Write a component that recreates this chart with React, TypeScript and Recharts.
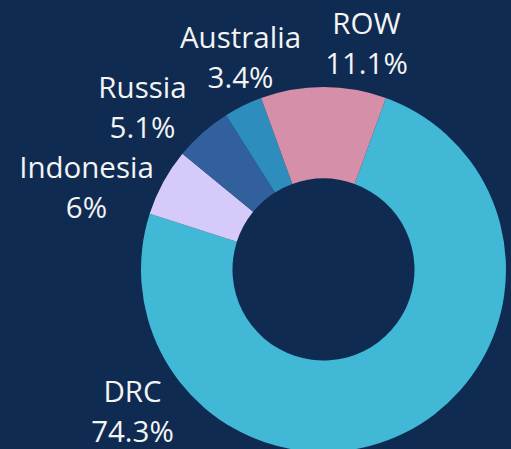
import { Cell, Pie, PieChart } from "recharts";

const countries = ["DRC", "Indonesia", "Russia", "Australia", "ROW"];
const shares = [74.3, 6, 5.1, 3.4, 11.1];
const sliceColors = ["#41b8d6", "#d6cafa", "#31609d", "#2d8dbc", "#d68fa9"];

// label anchor offsets from the pie centre (first line baseline)
const labelOffsets: [number, number][] = [
  [-191, 132],
  [-237, -92],
  [-181, -172],
  [-83, -222],
  [43, -236]
];

const chartData = countries.map((name, i) => ({ name, value: shares[i] }));

const BG = "#0f2b51";

function renderLabel(props: any) {
  const { cx, cy, index } = props;
  const [dx, dy] = labelOffsets[index];
  const x = cx + dx;
  const y = cy + dy;
  return (
    <text
      x={x}
      y={y}
      textAnchor="middle"
      fill="#f4f4f4"
      fontSize={29.5}
      fontFamily="'Open Sans', 'Noto Sans', sans-serif"
    >
      <tspan x={x} y={y}>
        {countries[index]}
      </tspan>
      <tspan x={x} y={y + 40}>
        {`${shares[index]}%`}
      </tspan>
    </text>
  );
}

export default function App() {
  return (
    <div
      style={{
        position: "fixed",
        top: 0,
        left: 0,
        width: 511,
        height: 449,
        background: BG,
        overflow: "hidden"
      }}
    >
      <PieChart width={511} height={449} margin={{ top: 0, right: 0, bottom: 0, left: 0 }}>
        <Pie
          data={chartData}
          dataKey="value"
          nameKey="name"
          cx={323.5}
          cy={269.5}
          innerRadius={91}
          outerRadius={182.5}
          startAngle={70}
          endAngle={-290}
          stroke="none"
          label={renderLabel}
          labelLine={false}
          isAnimationActive={false}
        >
          {chartData.map((row, i) => (
            <Cell key={row.name} fill={sliceColors[i]} />
          ))}
        </Pie>
      </PieChart>
    </div>
  );
}
